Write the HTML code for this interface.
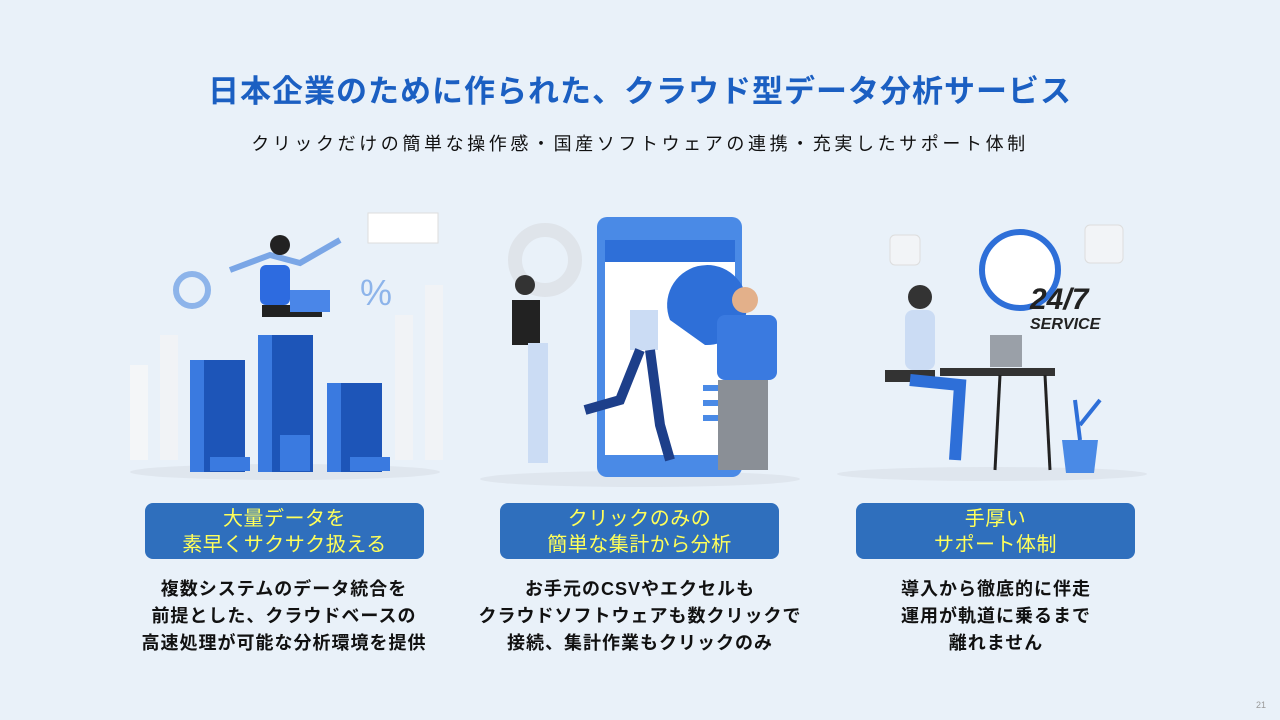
<!DOCTYPE html>
<html><head><meta charset="utf-8"><style>
body{margin:0;width:1280px;height:720px;background:#e9f1f9;font-family:"Liberation Sans","Noto Sans CJK JP",sans-serif;position:relative;overflow:hidden}
.t{position:absolute;left:0;width:1280px;text-align:center}
.box{position:absolute;top:503px;width:279px;height:56px;background:#2f6fbd;border-radius:8px;color:#ffff5a;font-size:20px;line-height:26px;text-align:center;padding-top:3px;box-sizing:border-box;letter-spacing:0.5px}
.d{position:absolute;top:576px;width:360px;text-align:center;font-size:18px;line-height:27px;color:#111;font-weight:bold;letter-spacing:1px}
</style></head><body>
<div class="t" style="top:66px;font-size:31px;font-weight:bold;color:#1b5fc2;letter-spacing:1px">日本企業のために作られた、クラウド型データ分析サービス</div>
<div class="t" style="top:130px;font-size:18px;color:#111;letter-spacing:3.6px">クリックだけの簡単な操作感・国産ソフトウェアの連携・充実したサポート体制</div>
<svg style="position:absolute;left:0;top:185px" width="1280" height="310">
<ellipse cx="285" cy="287" rx="155" ry="8" fill="#dfe6ee"/>
<rect x="130" y="180" width="18" height="95" fill="#f4f6f8"/><rect x="160" y="150" width="18" height="125" fill="#f1f3f6"/><rect x="395" y="130" width="18" height="145" fill="#f1f3f6"/><rect x="425" y="100" width="18" height="175" fill="#f1f3f6"/>
<rect x="190" y="175" width="55" height="112" fill="#1d55b8"/><rect x="258" y="150" width="55" height="137" fill="#1d55b8"/><rect x="327" y="198" width="55" height="89" fill="#1d55b8"/>
<rect x="190" y="175" width="14" height="112" fill="#3a7ae0"/><rect x="258" y="150" width="14" height="137" fill="#3a7ae0"/><rect x="327" y="198" width="14" height="89" fill="#3a7ae0"/>
<polyline points="230,85 270,70 300,78 340,55" stroke="#7aa6e6" stroke-width="6" fill="none"/>
<circle cx="192" cy="105" r="16" fill="none" stroke="#8db4ea" stroke-width="6"/>
<text x="360" y="120" font-size="36" fill="#8db4ea" font-family="Liberation Sans">%</text>
<rect x="260" y="80" width="30" height="40" rx="6" fill="#2d6be0"/><circle cx="280" cy="60" r="10" fill="#222"/>
<rect x="262" y="120" width="60" height="12" fill="#222"/><rect x="290" y="105" width="40" height="22" fill="#4a86e8"/>
<rect x="368" y="28" width="70" height="30" fill="#fff" stroke="#ddd"/>
<rect x="210" y="272" width="40" height="14" fill="#3a7ae0"/><rect x="280" y="250" width="30" height="36" fill="#3a7ae0"/><rect x="350" y="272" width="40" height="14" fill="#3a7ae0"/>
<ellipse cx="640" cy="294" rx="160" ry="8" fill="#dfe6ee"/>
<circle cx="545" cy="75" r="30" fill="none" stroke="#dfe4ea" stroke-width="14"/>
<rect x="597" y="32" width="145" height="260" rx="10" fill="#4a8ae6"/>
<rect x="605" y="55" width="130" height="215" fill="#fff"/><rect x="605" y="55" width="130" height="22" fill="#2e6fd8"/>
<path d="M670 135 A40 40 0 1 1 705 160 L670 135Z" fill="#2e6fd8"/>
<rect x="703" y="200" width="15" height="6" fill="#4a8ae6"/><rect x="703" y="215" width="15" height="6" fill="#4a8ae6"/><rect x="703" y="230" width="15" height="6" fill="#4a8ae6"/>
<rect x="512" y="115" width="28" height="45" fill="#222"/><circle cx="525" cy="100" r="10" fill="#333"/>
<rect x="528" y="158" width="20" height="120" fill="#cbdcf4"/>
<rect x="630" y="125" width="28" height="40" fill="#cbdcf4"/><path d="M640 165 L620 215 L585 225" stroke="#1d3f8a" stroke-width="10" fill="none"/><path d="M650 165 L660 240 L670 275" stroke="#1d3f8a" stroke-width="10" fill="none"/>
<rect x="717" y="130" width="60" height="65" rx="8" fill="#3a7ae0"/><circle cx="745" cy="115" r="13" fill="#e3b08a"/>
<rect x="718" y="195" width="50" height="90" fill="#8a8f96"/>
<ellipse cx="992" cy="289" rx="155" ry="7" fill="#dfe6ee"/>
<circle cx="1020" cy="85" r="38" fill="#fff" stroke="#2e6fd8" stroke-width="6"/>
<text x="1030" y="124" font-size="30" font-weight="bold" font-style="italic" fill="#222" font-family="Liberation Sans">24/7</text>
<text x="1030" y="144" font-size="16" font-weight="bold" font-style="italic" fill="#222" font-family="Liberation Sans">SERVICE</text>
<rect x="890" y="50" width="30" height="30" rx="5" fill="#f2f4f7" stroke="#ddd"/><rect x="1085" y="40" width="38" height="38" rx="5" fill="#f2f4f7" stroke="#ddd"/>
<rect x="905" y="125" width="30" height="60" rx="8" fill="#cbdcf4"/><circle cx="920" cy="112" r="12" fill="#333"/>
<rect x="885" y="185" width="50" height="12" fill="#333"/><rect x="940" y="183" width="115" height="8" fill="#333"/>
<rect x="990" y="150" width="32" height="32" fill="#9aa0a8"/><path d="M910 195 L960 200 L955 275" stroke="#2e6fd8" stroke-width="12" fill="none"/>
<line x1="1000" y1="190" x2="995" y2="285" stroke="#222" stroke-width="3"/><line x1="1045" y1="190" x2="1050" y2="285" stroke="#222" stroke-width="3"/>
<path d="M1062 255 L1098 255 L1094 288 L1066 288Z" fill="#4a8ae6"/><path d="M1080 255 L1075 215 M1080 240 L1100 215" stroke="#2e6fd8" stroke-width="4"/>
</svg>
<div class="box" style="left:145px">大量データを<br>素早くサクサク扱える</div>
<div class="box" style="left:500px">クリックのみの<br>簡単な集計から分析</div>
<div class="box" style="left:856px">手厚い<br>サポート体制</div>
<div class="d" style="left:104px">複数システムのデータ統合を<br>前提とした、クラウドベースの<br>高速処理が可能な分析環境を提供</div>
<div class="d" style="left:460px">お手元のCSVやエクセルも<br>クラウドソフトウェアも数クリックで<br>接続、集計作業もクリックのみ</div>
<div class="d" style="left:816px">導入から徹底的に伴走<br>運用が軌道に乗るまで<br>離れません</div>
<div style="position:absolute;right:14px;top:700px;font-size:9px;color:#999">21</div>
</body></html>
